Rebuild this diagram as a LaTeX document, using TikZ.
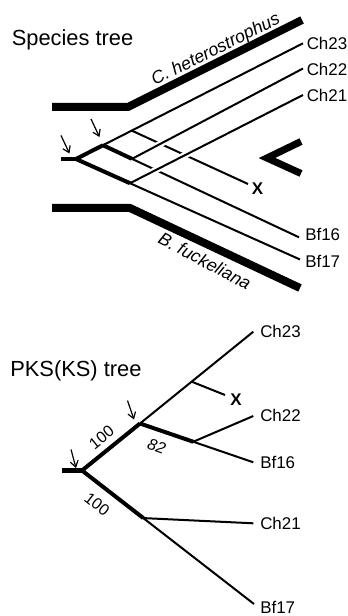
\documentclass[tikz,border=0pt]{standalone}
\usepackage{fontspec}
\setmainfont{Liberation Sans}
\usetikzlibrary{arrows.meta,calc}
\begin{document}
\begin{tikzpicture}[x=0.75pt,y=-0.75pt,
  thinline/.style={line width=1.5pt},
  thickline/.style={line width=3pt},
  stub/.style={line width=3.5pt},
  band/.style={line width=6pt, line join=miter},
  gene/.style={line width=1.5pt, preaction={draw=white, line width=5pt, shorten <=7pt, shorten >=1pt}},
  pointer/.style={line width=0.9pt, -{Straight Barb[length=4.5pt,width=6pt]}},
  leaf/.style={anchor=west, inner sep=0pt, font=\fontsize{12.7}{14}\selectfont},
  xleaf/.style={anchor=west, inner sep=0pt, font=\fontsize{12.7}{14}\selectfont\bfseries},
  title/.style={anchor=base west, inner sep=0pt, font=\fontsize{16.4}{19}\selectfont},
  bandlabel/.style={inner sep=0pt, font=\fontsize{13.3}{15}\selectfont\itshape},
  support/.style={inner sep=0pt, font=\fontsize{12}{14}\selectfont},
]
\useasboundingbox (0,0) rectangle (348,616);

% ================= Species tree =================
\node[title] (stitle) at (11.5,45.7) {Species tree};

% species bands
\coordinate (cb1) at (52,107);
\coordinate (cb2) at (128,107);
\coordinate (cb3) at (302,20);
\coordinate (bb1) at (52,208);
\coordinate (bb2) at (130,208);
\coordinate (bb3) at (300,288);
\draw[band] (cb1) -- (cb2) -- (cb3);
\draw[band] (bb1) -- (bb2) -- (bb3);
\node[bandlabel, rotate=26.5] (chet) at (216,50) {C. heterostrophus};
\node[bandlabel, rotate=-28] (bfuc) at (205,261) {B. fuckeliana};

% gene tree coordinates
\coordinate (s0) at (61,159);
\coordinate (sR) at (76,159);
\coordinate (s23) at (303,43.3);
\coordinate (sN1) at ($(sR)!0.119!(s23)$);
\coordinate (sJx) at ($(sR)!0.2454!(s23)$);
\coordinate (s16) at (299,237.3);
\coordinate (sJ22) at ($(sN1)!0.148!(s16)$);
\coordinate (s17) at (300,259.5);
\coordinate (sJ21) at ($(sR)!0.241!(s17)$);
\coordinate (s22) at (303,68.5);
\coordinate (s21) at (303,95);
\coordinate (sX) at (248,184);

% thin branches
\draw[thinline] (sN1) -- (s23);
\draw[thinline] (sJ22) -- (s16);
\draw[thinline] (sJ21) -- (s17);
\draw[thinline] (sJx) -- (sX);
% thick branches
\draw[stub] (s0) -- (sR);
\draw[thickline, line join=round] (sN1) -- (sR) -- (sJ21);
\draw[thickline] (sN1) -- (sJ22);
% transferred genes (crossing over others)
\draw[gene] (sJ22) -- (s22);
\draw[gene] (sJ21) -- (s21);

% leaves
\node[leaf] (sl23) at (306.5,43.8) {Ch23};
\node[leaf] (sl22) at (306.5,69.5) {Ch22};
\node[leaf] (sl21) at (306.5,95.3) {Ch21};
\node[leaf] (sl16) at (305,234) {Bf16};
\node[leaf] (sl17) at (305,261) {Bf17};
\node[xleaf] (slx) at (251.5,188.5) {X};

% arrows
\coordinate (sa1s) at (61,135.5);
\coordinate (sa1e) at (69.5,153.5);
\coordinate (sa2s) at (91,119);
\coordinate (sa2e) at (99.5,137);
\draw[pointer] (sa1s) -- (sa1e);
\draw[pointer] (sa2s) -- (sa2e);

% chevron
\draw[line width=5.3pt, line join=miter, miter limit=10] (301,141.5) -- (267,158) -- (301,173.5);

% ================= PKS(KS) tree =================
\node[title] (ptitle) at (10,376.7) {PKS(KS) tree};

\coordinate (p0) at (62,470.5);
\coordinate (pR) at (82,470.5);
\coordinate (p23) at (253.3,331.7);
\coordinate (pA) at ($(pR)!0.3386!(p23)$);
\coordinate (pB) at ($(pR)!0.640!(p23)$);
\coordinate (pX) at (225,395);
\coordinate (p16) at (253.3,462.3);
\coordinate (pC) at ($(pA)!0.470!(p16)$);
\coordinate (p22) at (253.3,416);
\coordinate (p17) at (254,604);
\coordinate (pD) at ($(pR)!0.3564!(p17)$);
\coordinate (p21) at (253.3,523.3);

\draw[thinline] (pA) -- (p23);
\draw[thinline] (pB) -- (pX);
\draw[thinline] (pC) -- (p16);
\draw[thinline] (pC) -- (p22);
\draw[thinline] (pD) -- (p21);
\draw[thinline] (pD) -- (p17);
\draw[stub] (p0) -- (pR);
\draw[thickline, line join=round] (pA) -- (pR) -- (pD);
\draw[thickline] (pA) -- (pC);

\node[leaf] (pl23) at (260,331.7) {Ch23};
\node[leaf] (pl22) at (260,415.5) {Ch22};
\node[leaf] (pl16) at (260,462) {Bf16};
\node[leaf] (pl21) at (260,523) {Ch21};
\node[leaf] (pl17) at (260,607) {Bf17};
\node[xleaf] (plx) at (230,400) {X};

\node[support, rotate=39] (s100a) at (101.5,437.5) {100};
\node[support, rotate=-20, font=\fontsize{12}{14}\selectfont\itshape] (s82) at (156.7,446) {82};
\node[support, rotate=-38] (s100b) at (97,504) {100};

\coordinate (pa1s) at (71,449.5);
\coordinate (pa1e) at (76,468);
\coordinate (pa2s) at (127.5,400.5);
\coordinate (pa2e) at (134,419.5);
\draw[pointer] (pa1s) -- (pa1e);
\draw[pointer] (pa2s) -- (pa2e);
\end{tikzpicture}
\end{document}
